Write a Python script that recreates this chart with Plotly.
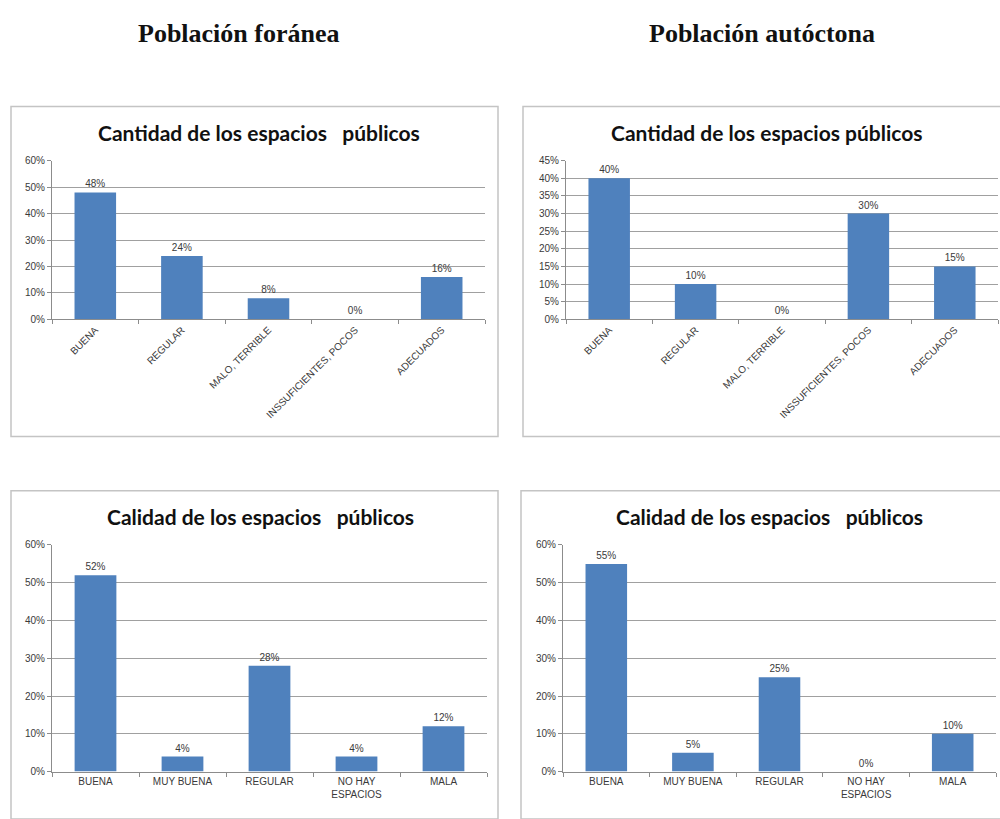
import plotly.graph_objects as go

# ---------------- data ----------------
cat_cantidad = ["BUENA", "REGULAR", "MALO, TERRIBLE", "INSSUFICIENTES, POCOS", "ADECUADOS"]
cantidad_foranea = [0.48, 0.24, 0.08, 0.00, 0.16]
cantidad_autoctona = [0.40, 0.10, 0.00, 0.30, 0.15]

cat_calidad = ["BUENA", "MUY BUENA", "REGULAR", "NO HAY<br>ESPACIOS", "MALA"]
calidad_foranea = [0.52, 0.04, 0.28, 0.04, 0.12]
calidad_autoctona = [0.55, 0.05, 0.25, 0.00, 0.10]

header_left = "Población foránea"
header_right = "Población autóctona"
title_cantidad = "Cantidad de los espacios\u00a0\u00a0 públicos"
title_cantidad_r = "Cantidad de los espacios públicos"
title_calidad = "Calidad de los espacios\u00a0\u00a0 públicos"

# ---------------- layout helpers ----------------
W, H = 1000, 819
BAR = "#4F81BD"
TXT = "#3a3a3a"
GRID = "#a0a0a0"


def px_x(p):
    return p / W


def px_y(p):
    return 1 - p / H


fig = go.Figure()

panels = [
    # (categories, values, axis id, x domain px, y domain px, ymax, dtick, angle)
    (cat_cantidad, cantidad_foranea, "", (52, 485), (157, 318), 0.6, 0.1, -45),
    (cat_cantidad, cantidad_autoctona, "2", (566, 998), (157, 318), 0.45, 0.05, -45),
    (cat_calidad, calidad_foranea, "3", (52, 487), (547, 777), 0.6, 0.1, 0),
    (cat_calidad, calidad_autoctona, "4", (563, 996), (547, 777), 0.6, 0.1, 0),
]

for cats, vals, ax, xd, yd, ymax, dt, ang in panels:
    fig.add_trace(go.Bar(
        x=cats, y=vals, xaxis="x" + ax, yaxis="y" + ax,
        marker=dict(color=BAR, line=dict(width=0)),
        width=0.48,
        text=[f"{v:.0%}" for v in vals],
        textposition="outside",
        textfont=dict(family="Liberation Sans", size=10, color=TXT),
        cliponaxis=False,
        showlegend=False,
    ))
    xkey = "xaxis" + ax
    ykey = "yaxis" + ax
    fig.layout[xkey] = dict(
        domain=[px_x(xd[0]), px_x(xd[1])],
        anchor="y" + ax,
        type="category",
        showline=True, linecolor="#8c8c8c", linewidth=1,
        ticks="outside", tickson="boundaries", ticklen=4, tickcolor="#8c8c8c",
        tickangle=ang,
        tickfont=dict(family="Liberation Sans", size=10, color=TXT),
        showgrid=False, fixedrange=True,
    )
    fig.layout[ykey] = dict(
        domain=[px_y(yd[1]), px_y(yd[0])],
        anchor="x" + ax,
        range=[0, ymax], dtick=dt, tick0=0,
        tickformat=".0%",
        showline=True, linecolor="#8c8c8c", linewidth=1,
        ticks="outside", ticklen=4, tickcolor="#8c8c8c",
        showgrid=True, gridcolor=GRID, gridwidth=1,
        zeroline=False,
        tickfont=dict(family="Liberation Sans", size=10, color=TXT),
        fixedrange=True,
    )

# chart frames
frames = [(11, 102, 498, 437), (523, 102, 1004, 437), (11, 492, 498, 825), (521, 492, 1004, 825)]
shapes = []
for x0, y0, x1, y1 in frames:
    shapes.append(dict(type="rect", xref="paper", yref="paper",
                       x0=px_x(x0), x1=px_x(x1), y0=px_y(y1), y1=px_y(y0),
                       line=dict(color="#c4c4c4", width=1.5), fillcolor="rgba(0,0,0,0)",
                       layer="below"))
# small blank patch over the top gridline in the lower right chart (as in the source image)
shapes.append(dict(type="rect", xref="paper", yref="paper",
                   x0=px_x(857), x1=px_x(928), y0=px_y(551), y1=px_y(540),
                   line=dict(width=0), fillcolor="white", layer="above"))


def ann(text, x, y, family, size):
    return dict(text=f"<b>{text}</b>", x=px_x(x), y=px_y(y), xref="paper", yref="paper",
                xanchor="center", yanchor="middle", showarrow=False,
                font=dict(family=family, size=size, color="#111"))


annotations = [
    ann(header_left, 239, 28, "Liberation Serif", 26),
    ann(header_right, 762, 28, "Liberation Serif", 26),
    ann(title_cantidad, 259, 128, "Lato", 21),
    ann(title_cantidad_r, 767, 128, "Lato", 21),
    ann(title_calidad, 260, 518, "Lato", 21),
    ann(title_calidad, 769, 518, "Lato", 21),
]

fig.update_layout(
    width=W, height=H,
    margin=dict(l=0, r=0, t=0, b=0),
    paper_bgcolor="white", plot_bgcolor="white",
    shapes=shapes,
    annotations=annotations,
)

fig.write_html("out.html", config={"displayModeBar": False},
               post_script="document.body.style.margin='0';document.body.style.overflow='hidden';")
